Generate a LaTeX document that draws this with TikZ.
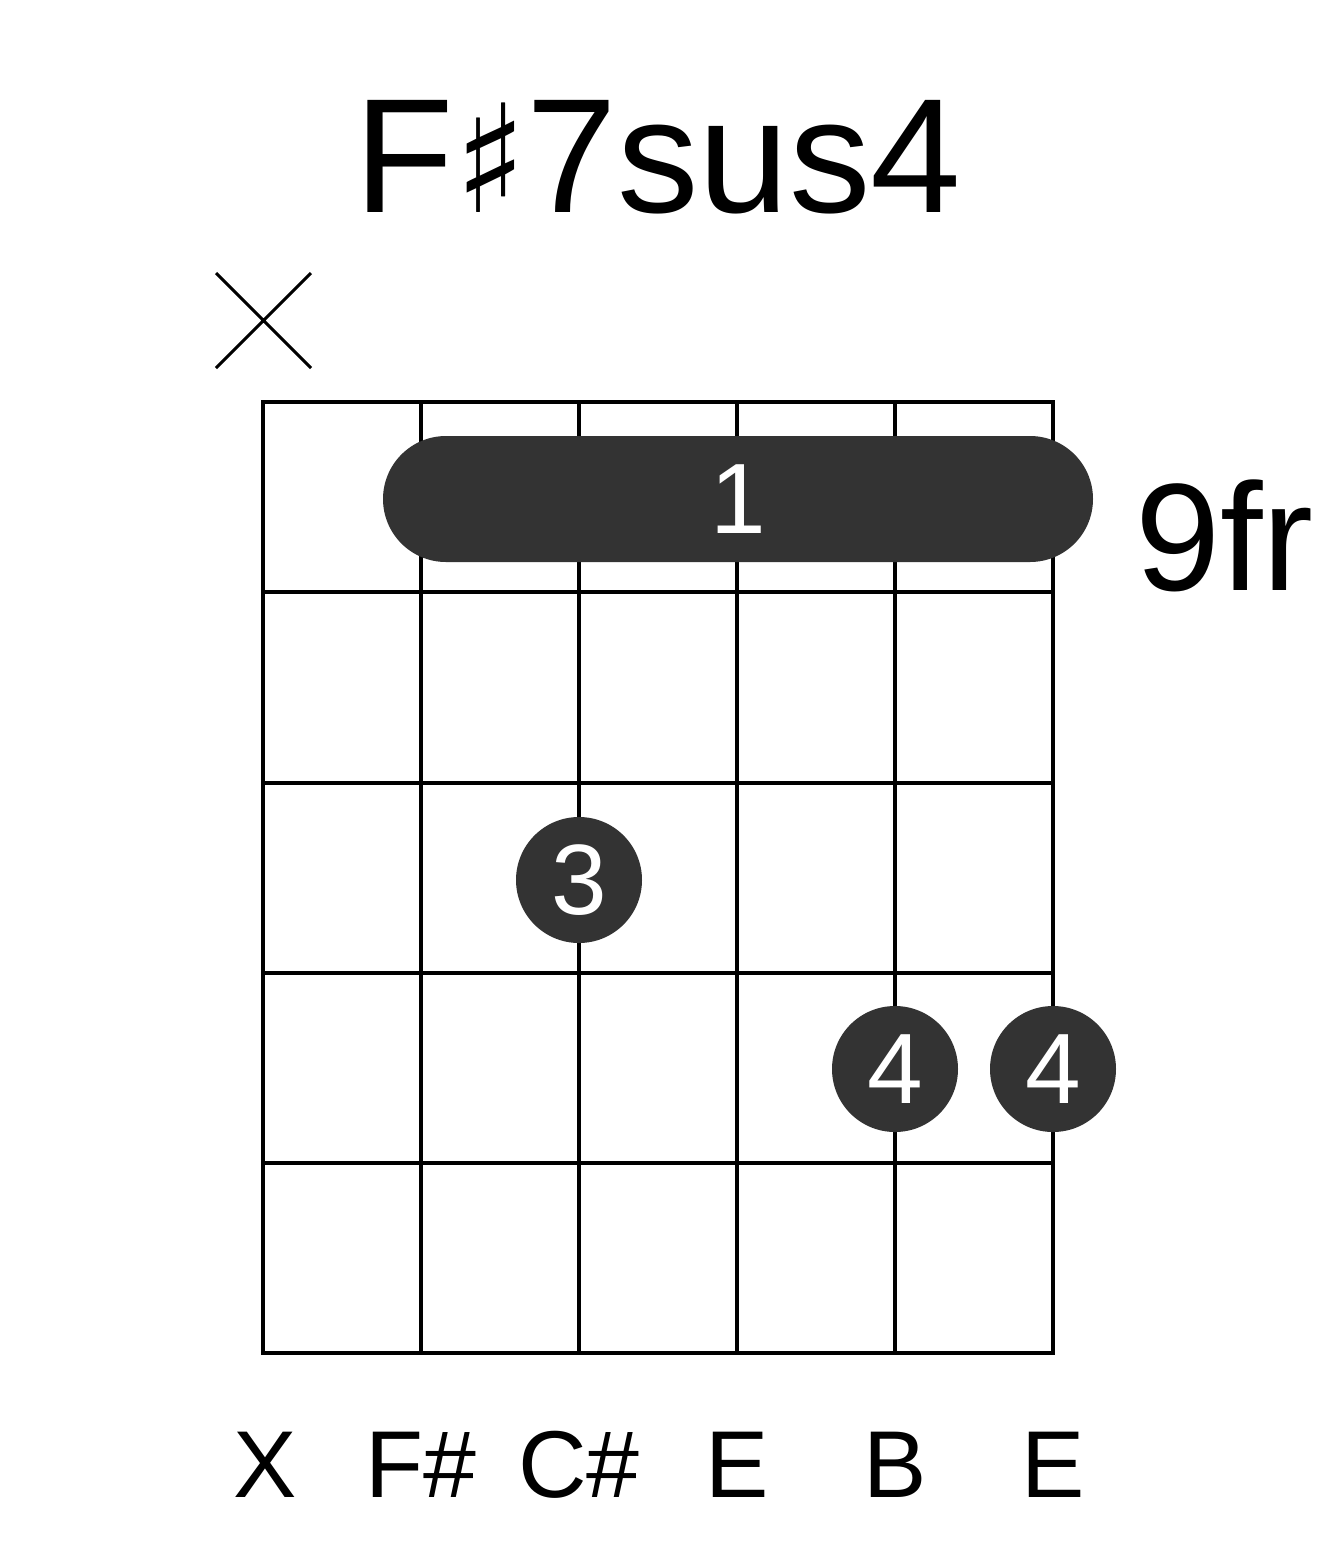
\documentclass[tikz,border=0pt]{standalone}
\usepackage{fontspec}
\setmainfont{Liberation Sans}
\newfontfamily\symfont{DejaVu Sans}
\begin{document}
\begin{tikzpicture}[x=1pt,y=-1pt,
  grid/.style={line width=4pt},
  dot/.style={circle,fill=black!80,minimum size=126pt,inner sep=0pt,text=white,font=\fontsize{100}{100}\selectfont},
  lab/.style={font=\fontsize{95}{95}\selectfont}]
\useasboundingbox (0,0) rectangle (1317,1551);
\foreach \x in {263,421,579,737,895,1053} \draw[grid] (\x,402) -- (\x,1353);
\foreach \y in {402,592,783,973,1163,1353} \draw[grid] (261,\y) -- (1055,\y);
\fill[black!80,rounded corners=63pt] (383,436) rectangle (1093,562);
\node[text=white,font=\fontsize{100}{100}\selectfont] (b1) at (738,499) {1};
\node[dot] (d3) at (579,880) {3};
\node[dot] (d4a) at (895,1069) {4};
\node[dot] (d4b) at (1053,1069) {4};
\node[anchor=base,font=\fontsize{163}{163}\selectfont] (t) at (658,212) {F{\symfont\fontsize{150}{150}\selectfont ♯}7sus4};
\node[anchor=base west,inner sep=0pt,font=\fontsize{153}{153}\selectfont] (fr) at (1135,590) {9fr};
\draw[line width=3pt] (216,273) -- (311,368) (311,273) -- (216,368);
\foreach \x/\t in {265/X,421/F\#,579/C\#,737/E,895/B,1053/E}
  \node[lab,anchor=base] at (\x,1497) {\t};
\end{tikzpicture}
\end{document}
